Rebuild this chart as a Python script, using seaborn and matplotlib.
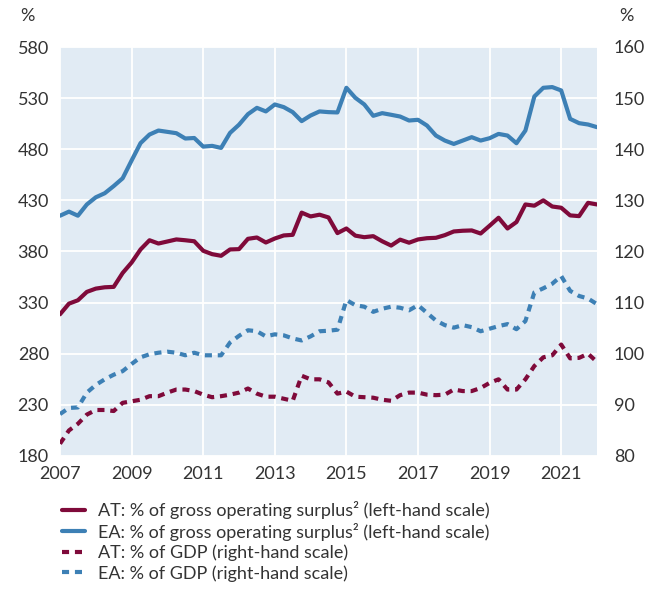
import numpy as np
import pandas as pd
import matplotlib
matplotlib.use("Agg")
import matplotlib.pyplot as plt
import seaborn as sns
from matplotlib.lines import Line2D

# Quarterly data, 2007Q1 .. 2022Q1
at_gos = [318.6, 329, 332.3, 340.5, 343.7, 345, 345.4, 359, 369.2, 382, 391, 387.8,
          389.8, 391.8, 391, 390, 380.7, 377.4, 375.8, 382, 382.3, 392.4, 393.7, 388.8,
          392.7, 395.7, 396.3, 418, 414.3, 416, 413.3, 398, 402.5, 395.5, 394, 395,
          390, 385.8, 391.6, 388.6, 391.8, 393, 393.4, 396, 399.6, 400.3, 400.6, 397.6,
          405.2, 413, 402.5, 408.8, 426, 424.8, 430, 424, 422.8, 415.3, 414.6, 427.6, 426]
ea_gos = [415, 419, 415, 426, 433, 437, 444, 451.6, 469, 486, 494.4, 498.3,
          497, 495.7, 490.5, 491, 482.6, 483.3, 481.3, 496, 504, 514.3, 520.5, 517,
          523.8, 521.2, 516.3, 507.5, 513, 517, 516.3, 516, 540.1, 530.3, 523.8, 512.7,
          515.3, 513.7, 512, 508.1, 508.8, 503.2, 493.4, 488.5, 485.2, 488.5, 491.8, 488.5,
          490.8, 495, 493.4, 485.9, 498.3, 531.6, 540.1, 540.8, 537.5, 509.7, 505.5, 504.2, 501.6]
at_gdp = [82.4, 85, 86.3, 88.1, 89, 89, 88.8, 90.4, 90.7, 91, 91.7, 91.7,
          92.4, 93, 93, 92.7, 92, 91.5, 91.7, 92, 92.4, 93.2, 92.2, 91.6,
          91.6, 91.2, 90.8, 95.7, 95, 95, 94.4, 92.2, 92.6, 91.6, 91.5, 91.4,
          91, 90.8, 91.9, 92.4, 92.4, 92, 91.9, 92, 93, 92.7, 92.7, 93.3,
          94.3, 95, 93, 93, 95, 97.6, 99.3, 99.7, 101.8, 99.1, 99.2, 100, 98.4]
ea_gdp = [88.2, 89.4, 89.5, 92.4, 93.9, 95, 95.9, 96.6, 98, 99.3, 99.9, 100.2,
          100.4, 100.2, 99.7, 100.2, 99.7, 99.7, 99.7, 102.2, 103.5, 104.6, 104.4, 103.4,
          103.8, 103.6, 103, 102.6, 103.4, 104.4, 104.5, 104.7, 110.5, 109.5, 109.2, 108.2,
          108.8, 109.2, 109, 108.5, 109.5, 108, 106.5, 105.6, 105.1, 105.6, 105.2, 104.4,
          104.9, 105.4, 105.8, 104.8, 106.4, 112, 112.8, 113.7, 115.2, 112.3, 111.3, 110.8, 109.7]
start_year = 2007
year_ticks = [2007, 2009, 2011, 2013, 2015, 2017, 2019, 2021]
left_ticks = [180, 230, 280, 330, 380, 430, 480, 530, 580]
right_ticks = [80, 90, 100, 110, 120, 130, 140, 150, 160]
labels = ["AT: % of gross operating surplus² (left-hand scale)",
          "EA: % of gross operating surplus² (left-hand scale)",
          "AT: % of GDP (right-hand scale)",
          "EA: % of GDP (right-hand scale)"]

time = start_year + np.arange(len(at_gos)) / 4.0
df = pd.DataFrame({"time": time, "at_gos": at_gos, "ea_gos": ea_gos,
                   "at_gdp": at_gdp, "ea_gdp": ea_gdp})

sns.set_theme(style="white")
plt.rcParams['font.family'] = ['Lato', 'DejaVu Sans']

RED = "#7f0a3a"
BLUE = "#3d80b5"
BG = "#e1ebf4"
TXT = "#333333"

fig = plt.figure(figsize=(6.54, 5.89), dpi=100)
ax = fig.add_axes([60/654, 1-456/589, (597-60)/654, (456-47)/589])
ax.set_facecolor(BG)
ax2 = ax.twinx()

lw = 3.0
DASH = (1.7, 1.4)
sns.lineplot(data=df, x="time", y="at_gos", ax=ax, color=RED, lw=lw)
sns.lineplot(data=df, x="time", y="ea_gos", ax=ax, color=BLUE, lw=lw)
sns.lineplot(data=df, x="time", y="at_gdp", ax=ax2, color=RED, lw=lw, dashes=False)
sns.lineplot(data=df, x="time", y="ea_gdp", ax=ax2, color=BLUE, lw=lw, dashes=False)
for ln in ax2.get_lines():
    ln.set_dashes(DASH)
    ln.set_dash_capstyle("butt")

ax.set_xlim(time[0], time[-1])
ax.set_ylim(left_ticks[0], left_ticks[-1])
ax2.set_ylim(right_ticks[0], right_ticks[-1])
ax.set_xticks(year_ticks)
ax.set_xticklabels([str(y) for y in year_ticks])
ax.set_yticks(left_ticks)
ax2.set_yticks(right_ticks)
ax.grid(True, color="white", lw=1.3)
ax.set_axisbelow(True)
ax2.grid(False)
for a in (ax, ax2):
    a.set_xlabel("")
    a.set_ylabel("")
    for s in a.spines.values():
        s.set_visible(False)
    a.tick_params(length=0, labelsize=13, colors=TXT, pad=8)
ax.tick_params(axis="x", pad=7)
ax2.tick_params(axis="y", pad=12)

fig.text(20/654, 1-16/589, "%", fontsize=13, color=TXT, ha="left", va="center")
fig.text(634/654, 1-16/589, "%", fontsize=13, color=TXT, ha="right", va="center")

handles = [Line2D([], [], color=RED, lw=lw),
           Line2D([], [], color=BLUE, lw=lw),
           Line2D([], [], color=RED, lw=lw, dashes=DASH),
           Line2D([], [], color=BLUE, lw=lw, dashes=DASH)]
leg = fig.legend(handles, labels, loc="upper left", bbox_to_anchor=(62/654, 1-501/589),
                 frameon=False, fontsize=13, handlelength=1.3, handletextpad=0.7,
                 labelspacing=0.21, borderaxespad=0, borderpad=0)
for t in leg.get_texts():
    t.set_color(TXT)

fig.savefig("out.png", dpi=100)
